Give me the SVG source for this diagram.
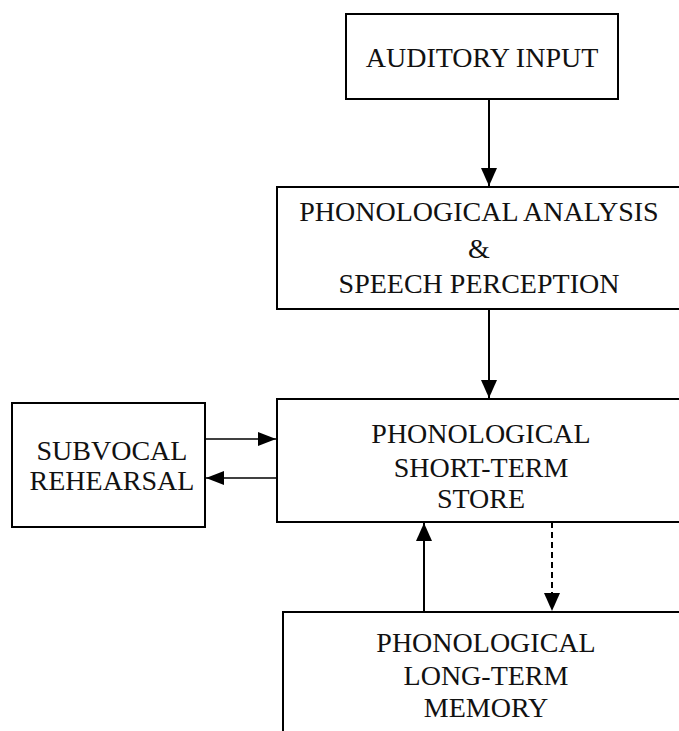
<svg xmlns="http://www.w3.org/2000/svg" width="679" height="731" viewBox="0 0 679 731">
  <style>
    .box { fill: #fff; stroke: #000; stroke-width: 2; }
    .lbl { font-family: "Liberation Serif", "Times New Roman", serif; font-size: 28px; fill: #111; text-anchor: middle; }
    .link { stroke: #000; stroke-width: 2; fill: none; }
    .thin { stroke-width: 1.6; }
    .dash { stroke-dasharray: 6 4; }
  </style>
  <defs>
    <marker id="arrow" markerUnits="userSpaceOnUse" markerWidth="18" markerHeight="16" refX="18" refY="8" orient="auto">
      <path d="M0,0 L18,8 L0,16 Z" fill="#000"/>
    </marker>
    <marker id="arrowSmall" markerUnits="userSpaceOnUse" markerWidth="18" markerHeight="14" refX="18" refY="7" orient="auto">
      <path d="M0,0 L18,7 L0,14 Z" fill="#000"/>
    </marker>
  </defs>

  <g id="auditory-input">
    <rect class="box" x="346" y="14" width="272" height="85"/>
    <text class="lbl" x="482" y="67">AUDITORY INPUT</text>
  </g>

  <g id="phonological-analysis">
    <rect class="box" x="277" y="187" width="420" height="122"/>
    <text class="lbl" x="479" y="221">PHONOLOGICAL ANALYSIS</text>
    <text class="lbl" x="479" y="258">&amp;</text>
    <text class="lbl" x="479" y="293">SPEECH PERCEPTION</text>
  </g>

  <g id="short-term-store">
    <rect class="box" x="277" y="399" width="420" height="123"/>
    <text class="lbl" x="481" y="443">PHONOLOGICAL</text>
    <text class="lbl" x="481" y="477">SHORT-TERM</text>
    <text class="lbl" x="481" y="508">STORE</text>
  </g>

  <g id="subvocal-rehearsal">
    <rect class="box" x="12" y="403" width="193" height="124"/>
    <text class="lbl" x="112" y="460">SUBVOCAL</text>
    <text class="lbl" x="112" y="490">REHEARSAL</text>
  </g>

  <g id="long-term-memory">
    <rect class="box" x="283" y="612" width="420" height="140"/>
    <text class="lbl" x="486" y="652">PHONOLOGICAL</text>
    <text class="lbl" x="486" y="685">LONG-TERM</text>
    <text class="lbl" x="486" y="717">MEMORY</text>
  </g>

  <g id="connectors">
    <line class="link" x1="489" y1="99" x2="489" y2="186" marker-end="url(#arrow)"/>
    <line class="link" x1="489" y1="309" x2="489" y2="398" marker-end="url(#arrow)"/>
    <line class="link thin" x1="205" y1="439" x2="276" y2="439" marker-end="url(#arrowSmall)"/>
    <line class="link thin" x1="277" y1="478" x2="206" y2="478" marker-end="url(#arrowSmall)"/>
    <line class="link" x1="424" y1="612" x2="424" y2="523" marker-end="url(#arrow)"/>
    <line class="link dash" x1="552" y1="522" x2="552" y2="611" marker-end="url(#arrow)"/>
  </g>
</svg>
